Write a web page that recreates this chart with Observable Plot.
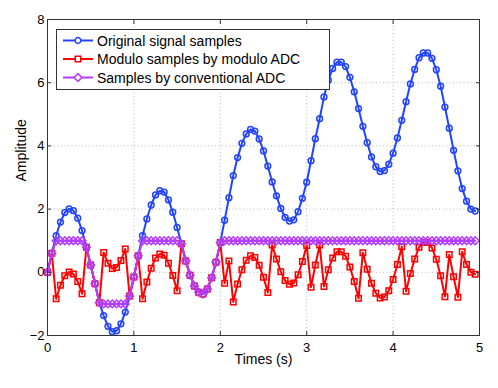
<!DOCTYPE html>
<html><head><meta charset="utf-8">
<script src="https://cdn.jsdelivr.net/npm/d3@7"></script>
<script src="https://cdn.jsdelivr.net/npm/@observablehq/plot@0.6"></script>
<style>
body{margin:0;background:#fff;}
#wrap{position:relative;width:498px;height:388px;font-family:"Liberation Sans",Arial,sans-serif;}
#legend{position:absolute;left:0;top:0;}
</style></head><body><div id="wrap"></div>
<script>
const time = [0,0.05,0.1,0.15,0.2,0.25,0.3,0.35,0.4,0.45,
0.5,0.55,0.6,0.65,0.7,0.75,0.8,0.85,0.9,0.95,
1,1.05,1.1,1.15,1.2,1.25,1.3,1.35,1.4,1.45,
1.5,1.55,1.6,1.65,1.7,1.75,1.8,1.85,1.9,1.95,
2,2.05,2.1,2.15,2.2,2.25,2.3,2.35,2.4,2.45,
2.5,2.55,2.6,2.65,2.7,2.75,2.8,2.85,2.9,2.95,
3,3.05,3.1,3.15,3.2,3.25,3.3,3.35,3.4,3.45,
3.5,3.55,3.6,3.65,3.7,3.75,3.8,3.85,3.9,3.95,
4,4.05,4.1,4.15,4.2,4.25,4.3,4.35,4.4,4.45,
4.5,4.55,4.6,4.65,4.7,4.75,4.8,4.85,4.9,4.95];

const original = [0.00,0.60,1.16,1.59,1.89,2.01,1.95,1.71,1.32,0.79,
0.23,-0.36,-0.96,-1.37,-1.71,-1.88,-1.85,-1.63,-1.26,-0.75,
-0.15,0.52,1.16,1.69,2.13,2.45,2.58,2.54,2.29,1.90,
1.42,0.90,0.36,-0.09,-0.43,-0.63,-0.69,-0.53,-0.17,0.32,
0.94,1.65,2.36,3.06,3.63,4.08,4.38,4.52,4.47,4.22,
3.84,3.36,2.86,2.42,2.02,1.74,1.62,1.66,1.92,2.34,
2.85,3.53,4.23,4.86,5.55,6.08,6.45,6.65,6.65,6.51,
6.17,5.71,5.18,4.62,4.10,3.65,3.34,3.19,3.22,3.42,
3.77,4.25,4.81,5.40,5.96,6.42,6.79,6.94,6.94,6.77,
6.41,5.89,5.23,4.56,3.86,3.21,2.65,2.25,2.00,1.94];

const modulo = [0.00,0.60,-0.84,-0.41,-0.11,0.01,-0.05,-0.29,-0.68,0.79,
0.23,-0.36,-0.96,0.63,0.29,0.12,0.15,0.37,0.74,-0.75,
-0.15,0.52,-0.84,-0.31,0.13,0.45,0.58,0.54,0.29,-0.10,
-0.58,0.90,0.36,-0.09,-0.43,-0.63,-0.69,-0.53,-0.17,0.32,
0.94,-0.35,0.36,-0.94,-0.37,0.08,0.38,0.52,0.47,0.22,
-0.16,-0.64,0.86,0.42,0.02,-0.26,-0.38,-0.34,-0.08,0.34,
0.85,-0.47,0.23,0.86,-0.45,0.08,0.45,0.65,0.65,0.51,
0.17,-0.29,-0.82,0.62,0.10,-0.35,-0.66,-0.81,-0.78,-0.58,
-0.23,0.25,0.81,-0.60,-0.04,0.42,0.79,0.94,0.94,0.77,
0.41,-0.11,-0.77,0.56,-0.14,-0.79,0.65,0.25,0.00,-0.06];

const conventional = [0.00,0.60,1,1,1,1,1,1,1,0.79,
0.23,-0.36,-0.96,-1,-1,-1,-1,-1,-1,-0.75,
-0.15,0.52,1,1,1,1,1,1,1,1,
1,0.90,0.36,-0.09,-0.43,-0.63,-0.69,-0.53,-0.17,0.32,
0.94,1,1,1,1,1,1,1,1,1,
1,1,1,1,1,1,1,1,1,1,
1,1,1,1,1,1,1,1,1,1,
1,1,1,1,1,1,1,1,1,1,
1,1,1,1,1,1,1,1,1,1,
1,1,1,1,1,1,1,1,1,1];

const xTicks = [0,1,2,3,4,5];
const yTicks = [-2,0,2,4,6,8];
const seriesNames = ["Original signal samples","Modulo samples by modulo ADC","Samples by conventional ADC"];
const seriesColors = ["#2244ff","#ff0000","#b43cff"];
const seriesSymbols = ["circle","square","diamond2"];
const xLabel = "Times (s)";
const yLabel = "Amplitude";

const rows = time.map((t,i)=>({t, orig: original[i], mod: modulo[i], conv: conventional[i]}));
const keys = ["orig","mod","conv"];
const symR = [2.9, 3.1, 3.5];

const seriesMarks = keys.flatMap((k,s)=>[
  Plot.line(rows,{x:"t",y:k,stroke:seriesColors[s],strokeWidth:2}),
  Plot.dot(rows,{x:"t",y:k,stroke:seriesColors[s],symbol:seriesSymbols[s],r:symR[s],strokeWidth:1.5,fill:"none"})
]);

const chart = Plot.plot({
  width:498, height:388,
  marginLeft:47, marginRight:19, marginTop:19, marginBottom:53,
  style:{fontFamily:"'Liberation Sans',Arial,sans-serif", fontSize:"13px", color:"#000", background:"#fff"},
  x:{domain:[0,5]},
  y:{domain:[-2,8]},
  marks:[
    Plot.gridX(xTicks.slice(1,-1),{stroke:"#b8b8b8",strokeOpacity:1,strokeDasharray:"1,2.5"}),
    Plot.gridY(yTicks.slice(1,-1),{stroke:"#b8b8b8",strokeOpacity:1,strokeDasharray:"1,2.5"}),
    ...seriesMarks,
    Plot.frame({stroke:"#333"}),
    Plot.axisX(xTicks,{anchor:"bottom",tickSize:-4,fill:"none",stroke:"#333",label:null}),
    Plot.axisX(xTicks,{anchor:"top",tickSize:-4,fill:"none",stroke:"#333",label:null}),
    Plot.axisY(yTicks,{anchor:"left",tickSize:-4,fill:"none",stroke:"#333",label:null}),
    Plot.axisY(yTicks,{anchor:"right",tickSize:-4,fill:"none",stroke:"#333",label:null}),
    Plot.axisX(xTicks,{anchor:"bottom",tickSize:0,tickPadding:7,fontSize:13,label:null}),
    Plot.axisY(yTicks,{anchor:"left",tickSize:0,tickPadding:3,fontSize:13,label:null}),
    Plot.text([xLabel],{text:d=>d,frameAnchor:"bottom",dy:28,fontSize:14}),
    Plot.text([yLabel],{text:d=>d,frameAnchor:"left",rotate:-90,dx:-26,dy:4,fontSize:14})
  ]
});
const wrap = document.getElementById("wrap");
wrap.appendChild(chart);

// legend overlay
const lw = 273, lh = 60;
const leg = d3.select(wrap).append("svg").attr("id","legend")
  .attr("width",lw+2).attr("height",lh+2)
  .style("left","56px").style("top","29px");
leg.append("rect").attr("x",0.5).attr("y",0.5).attr("width",lw).attr("height",lh)
  .attr("fill","#fff").attr("stroke","#333");
const rowY = [11.5,30,48.5];
const symTypes = {circle:d3.symbolCircle, square:d3.symbolSquare, diamond2:d3.symbolDiamond2};
seriesNames.forEach((name,s)=>{
  const g = leg.append("g").attr("transform",`translate(0,${rowY[s]})`);
  g.append("line").attr("x1",7).attr("x2",37).attr("stroke",seriesColors[s]).attr("stroke-width",2);
  g.append("path").attr("transform","translate(22,0)")
    .attr("d",d3.symbol(symTypes[seriesSymbols[s]], Math.PI*symR[s]*symR[s])())
    .attr("fill","#fff").attr("stroke",seriesColors[s]).attr("stroke-width",1.5);
  g.append("text").attr("x",41).attr("y",5).attr("font-size","14px")
    .attr("font-family","'Liberation Sans',Arial,sans-serif").text(name);
});
</script></body></html>
